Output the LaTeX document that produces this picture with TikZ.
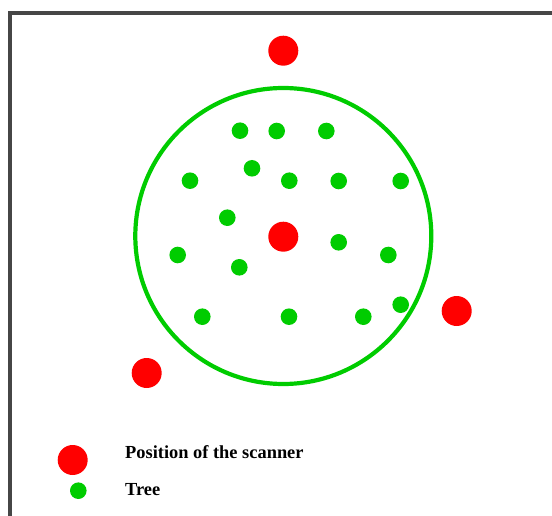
\documentclass[tikz,border=0pt]{standalone}
\usepackage{fontspec}
\setmainfont{Liberation Serif}
\usepackage{tikz}
\definecolor{treegreen}{RGB}{0,204,0}
\definecolor{framegray}{RGB}{70,70,70}
\tikzset{
  scanner/.style={circle,fill=red,inner sep=0pt,minimum size=30pt},
  tree/.style={circle,fill=treegreen,inner sep=0pt,minimum size=16.6pt},
  legendtext/.style={anchor=base west,inner sep=0pt,font=\fontsize{18.4}{21}\selectfont\bfseries}
}

\begin{document}
\begin{tikzpicture}[x=1pt,y=-1pt]
				\useasboundingbox (0,0) rectangle (552,516);
				\coordinate (O) at (283.3,236);
				% frame
				\draw[framegray,line width=4pt] (10,516)--(10,13.5)--(552,13.5);
				% scan area
				\draw[treegreen,line width=4.2pt] (O) circle (148);
				% trees
				\node[tree] (t1) at (240,130.7) {};
				\node[tree] (t2) at (276.7,131) {};
				\node[tree] (t3) at (326.3,131) {};
				\node[tree] (t4) at (252,168.3) {};
				\node[tree] (t5) at (190,180.7) {};
				\node[tree] (t6) at (289.3,180.7) {};
				\node[tree] (t7) at (338.7,181) {};
				\node[tree] (t8) at (400.7,181) {};
				\node[tree] (t9) at (227.3,217.7) {};
				\node[tree] (t10) at (338.7,242.3) {};
				\node[tree] (t11) at (177.7,255) {};
				\node[tree] (t12) at (388.3,255) {};
				\node[tree] (t13) at (239.3,267.3) {};
				\node[tree] (t14) at (400.7,304.7) {};
				\node[tree] (t15) at (202.3,316.7) {};
				\node[tree] (t16) at (289,316.7) {};
				\node[tree] (t17) at (363.3,316.7) {};
				% scanner positions
				\node[scanner] (s1) at (283.3,50.7) {};
				\node[scanner] (s2) at (283.3,236.7) {};
				\node[scanner] (s3) at (456.7,311) {};
				\node[scanner] (s4) at (146.7,373) {};
				% legend
				\node[scanner] (ls) at (72.7,460) {};
				\node[tree] (lt) at (78.3,490.7) {};
				\node[legendtext] (lstext) at (125,458.3) {Position of the scanner};
				\node[legendtext] (lttext) at (125,495.7) {Tree};
			\end{tikzpicture}
\end{document}
